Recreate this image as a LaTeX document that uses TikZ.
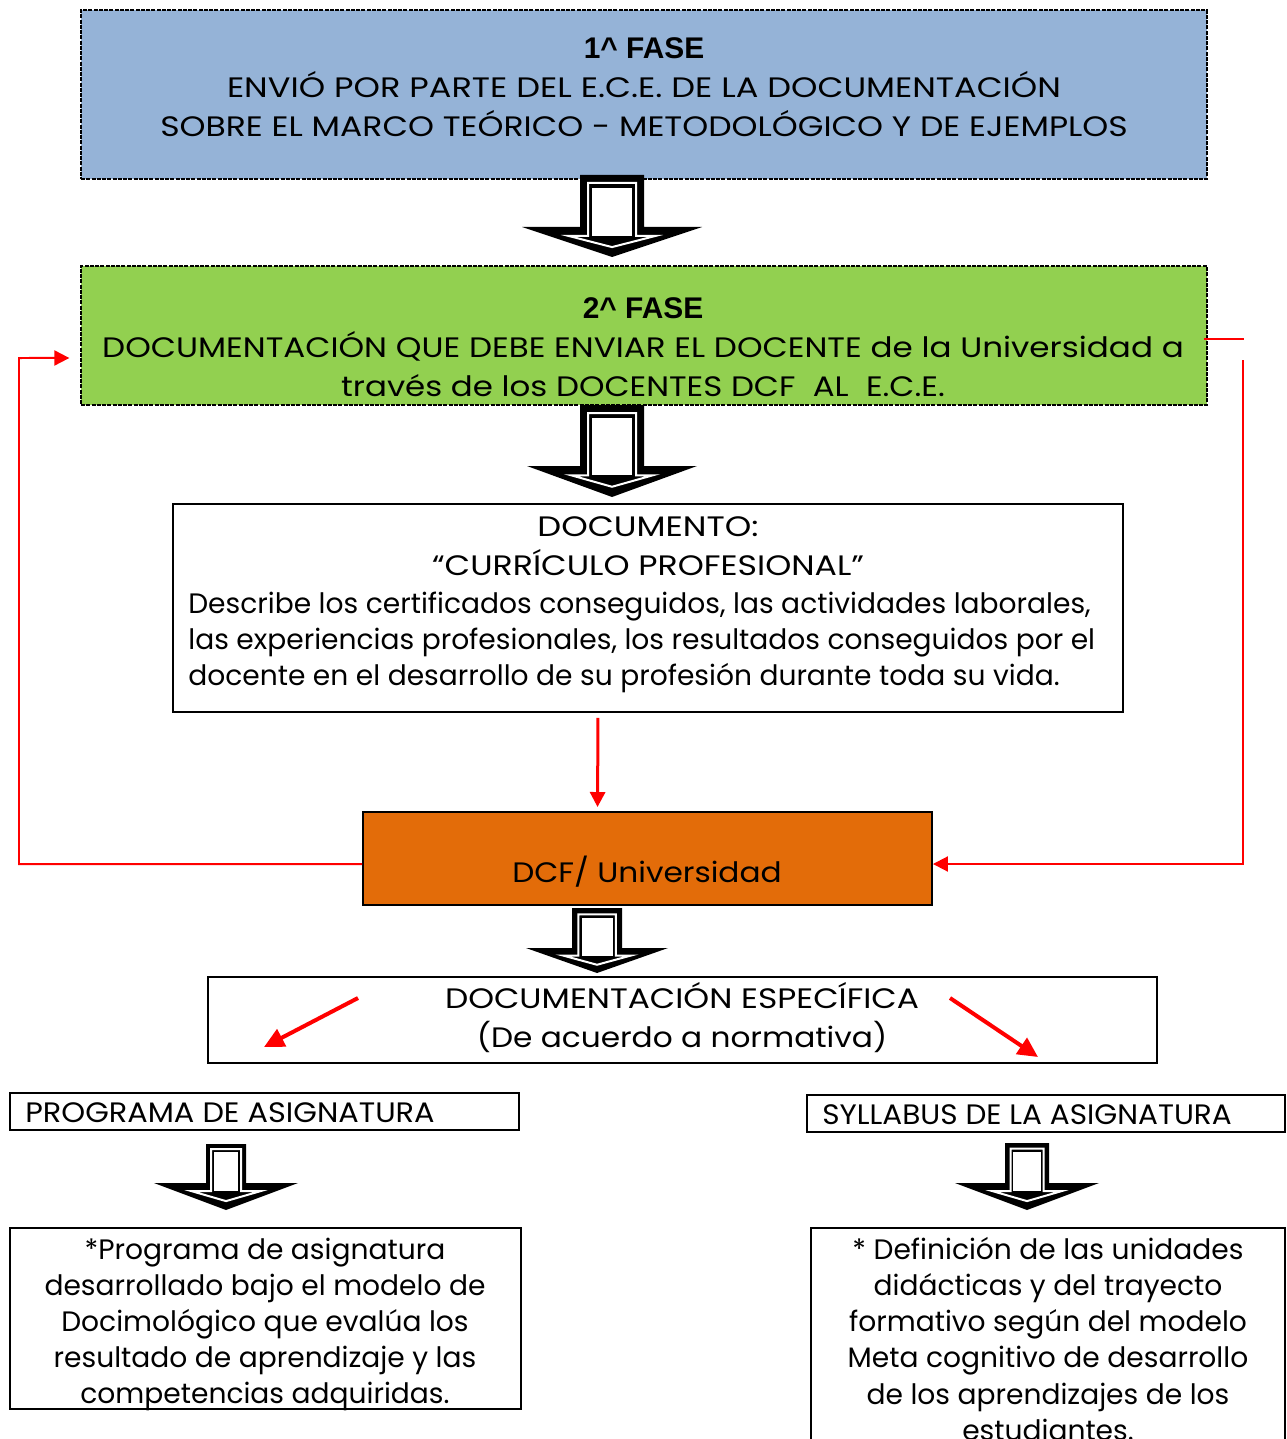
\documentclass[tikz,border=0pt]{standalone}
\usepackage{fontspec}
\setmainfont{Poppins}
\newfontfamily\headfont{Liberation Sans}
\usetikzlibrary{positioning, arrows.meta, calc}

% stretch a line of capitals to the width of the original face
\newcommand{\wide}[2]{\scalebox{#1}[1]{#2}}

% big hollow arrow: centre x, top, wing, tip, shaft half width, head half width
\newcommand{\fatarrow}[6]{%
  \fill[black] ({#1-#5},#2) -- ({#1+#5},#2) -- ({#1+#5},#3) -- ({#1+#6},#3)
    -- (#1,#4) -- ({#1-#6},#3) -- ({#1-#5},#3) -- cycle;
  \draw[white, line width=0.04cm] ({#1-0.75*#5},{#2+0.25*#5}) -- ({#1+0.75*#5},{#2+0.25*#5})
    -- ({#1+0.75*#5},{#3+0.3*(#4-#3)}) -- ({#1+0.48*#6},{#3+0.3*(#4-#3)})
    -- (#1,{#4-0.33*(#4-#3)}) -- ({#1-0.48*#6},{#3+0.3*(#4-#3)})
    -- ({#1-0.75*#5},{#3+0.3*(#4-#3)}) -- cycle;
  \fill[white] ({#1-0.62*#5},{#2+0.4*#5}) rectangle ({#1+0.62*#5},{#3+0.3*(#4-#3)});
}

\begin{document}
\begin{tikzpicture}[
    x=0.02cm, y=-0.02cm,
    phase/.style={draw=black, line width=0.03cm, dash pattern=on 0.08cm off 0.025cm,
        inner sep=0, minimum width=#1},
    plainbox/.style={draw=black, line width=0.04cm, fill=white, inner sep=0},
    txt/.style={align=center, inner sep=0, font=\fontsize{16}{22.2}\selectfont},
    smalltxt/.style={align=center, inner sep=0, font=\fontsize{16}{20.5}\selectfont},
    redline/.style={draw=red, line width=0.04cm},
    redarrow/.style={redline, -{Triangle[length=0.3cm, width=0.3cm]}},
    fatred/.style={draw=red, line width=0.08cm, -{Triangle[length=0.4cm, width=0.38cm]}}
]
    \useasboundingbox (0,0) rectangle (1286,1439);

    % Phases
    \node[phase=22.52cm, fill={rgb,255:red,149;green,179;blue,215}, minimum height=3.38cm] (fase1) at (644,94.5) {};
    \node[txt] (fase1txt) at (644,87) {{\headfont\bfseries\fontsize{17}{22.2}\selectfont 1\char"5E{} FASE}\\
        \wide{1.195}{ENVIÓ POR PARTE DEL E.C.E. DE LA DOCUMENTACIÓN}\\
        \wide{1.175}{SOBRE EL MARCO TEÓRICO - METODOLÓGICO Y DE EJEMPLOS}};

    \node[phase=22.52cm, fill={rgb,255:red,146;green,208;blue,80}, minimum height=2.78cm] (fase2) at (644,335.5) {};
    \node[txt] (fase2txt) at (643,347) {{\headfont\bfseries\fontsize{17}{22.2}\selectfont 2\char"5E{} FASE}\\
        \wide{1.16}{DOCUMENTACIÓN QUE DEBE ENVIAR EL DOCENTE de la Universidad a}\\
        \wide{1.155}{través de los DOCENTES DCF\ \ AL\ \ E.C.E.}};

    \fatarrow{612}{175}{227}{257}{32}{90}
    \fatarrow{612}{405}{466}{497}{32}{85}

    % Curriculum
    \node[plainbox, minimum width=19cm, minimum height=4.16cm] (curriculo) at (648,608) {};
    \node[txt] (curtitle) at (648,546) {\wide{1.2}{DOCUMENTO:}\\ \wide{1.18}{“CURRÍCULO PROFESIONAL”}};
    \node[smalltxt, align=left, anchor=west] (curbody) at (188,642) {Describe los certificados conseguidos, las actividades laborales,\\
        las experiencias profesionales, los resultados conseguidos por el\\
        docente en el desarrollo de su profesión durante toda su vida.};

    % DCF
    \node[plainbox, fill={rgb,255:red,227;green,108;blue,9}, minimum width=11.38cm, minimum height=1.86cm] (dcf) at (647.5,858.5) {};
    \node[txt] (dcftxt) at (647,872) {\wide{1.11}{DCF/ Universidad}};

    \fatarrow{597}{908}{948}{973}{25}{71}

    % Specific documentation
    \node[plainbox, minimum width=18.98cm, minimum height=1.72cm] (especifica) at (682.5,1020) {};
    \node[txt] (esptxt) at (682,1018) {\wide{1.17}{DOCUMENTACIÓN ESPECÍFICA}\\ \wide{1.11}{(De acuerdo a normativa)}};

    \node[plainbox, minimum width=10.18cm, minimum height=0.74cm] (programa) at (264.5,1111.5) {};
    \node[txt, anchor=west] (programatxt) at (25,1113) {\wide{1.08}{PROGRAMA DE ASIGNATURA}};
    \node[plainbox, minimum width=9.56cm, minimum height=0.74cm] (syllabus) at (1046,1113.5) {};
    \node[txt, anchor=west] (syllabustxt) at (822,1115) {\wide{1.05}{SYLLABUS DE LA ASIGNATURA}};

    \fatarrow{226}{1144}{1183}{1210}{20}{72}
    \fatarrow{1027}{1143}{1183}{1210}{22}{72}

    \node[plainbox, minimum width=10.22cm, minimum height=3.62cm] (progbox) at (265.5,1318.5) {};
    \node[smalltxt] (progtxt) at (265,1324) {*Programa de asignatura\\
        desarrollado bajo el modelo de\\ Docimológico que evalúa los\\
        resultado de aprendizaje y las\\ competencias adquiridas.};
    \node[plainbox, minimum width=9.48cm, minimum height=4.64cm] (syllbox) at (1048,1344) {};
    \node[smalltxt] (sylltxt) at (1048,1339) {* Definición de las unidades\\
        didácticas y del trayecto\\ formativo según del modelo\\
        Meta cognitivo de desarrollo\\ de los aprendizajes de los\\ estudiantes.};

    % Red connectors
    \draw[redarrow, line width=0.06cm, shorten <=0.1cm, shorten >=0.08cm] ([xshift=-1cm]curriculo.south) -- ([xshift=-1cm]dcf.north);
    \coordinate (loopL) at (19,358);
    \draw[redarrow] ([yshift=-0.11cm]dcf.west) -| (loopL) -- ([xshift=-0.22cm,yshift=-0.45cm]fase2.west);
    \draw[redline] ([xshift=-0.08cm,yshift=-0.07cm]fase2.east) -- ++(40,0);
    \coordinate (loopR) at (1243,360);
    \draw[redarrow] (loopR) |- ([yshift=-0.11cm]dcf.east);

    \coordinate (espL) at (358,998);
    \coordinate (espLend) at (264,1047);
    \coordinate (espR) at (950,998);
    \coordinate (espRend) at (1038,1057);
    \draw[fatred] (espL) -- (espLend);
    \draw[fatred] (espR) -- (espRend);
\end{tikzpicture}
\end{document}
